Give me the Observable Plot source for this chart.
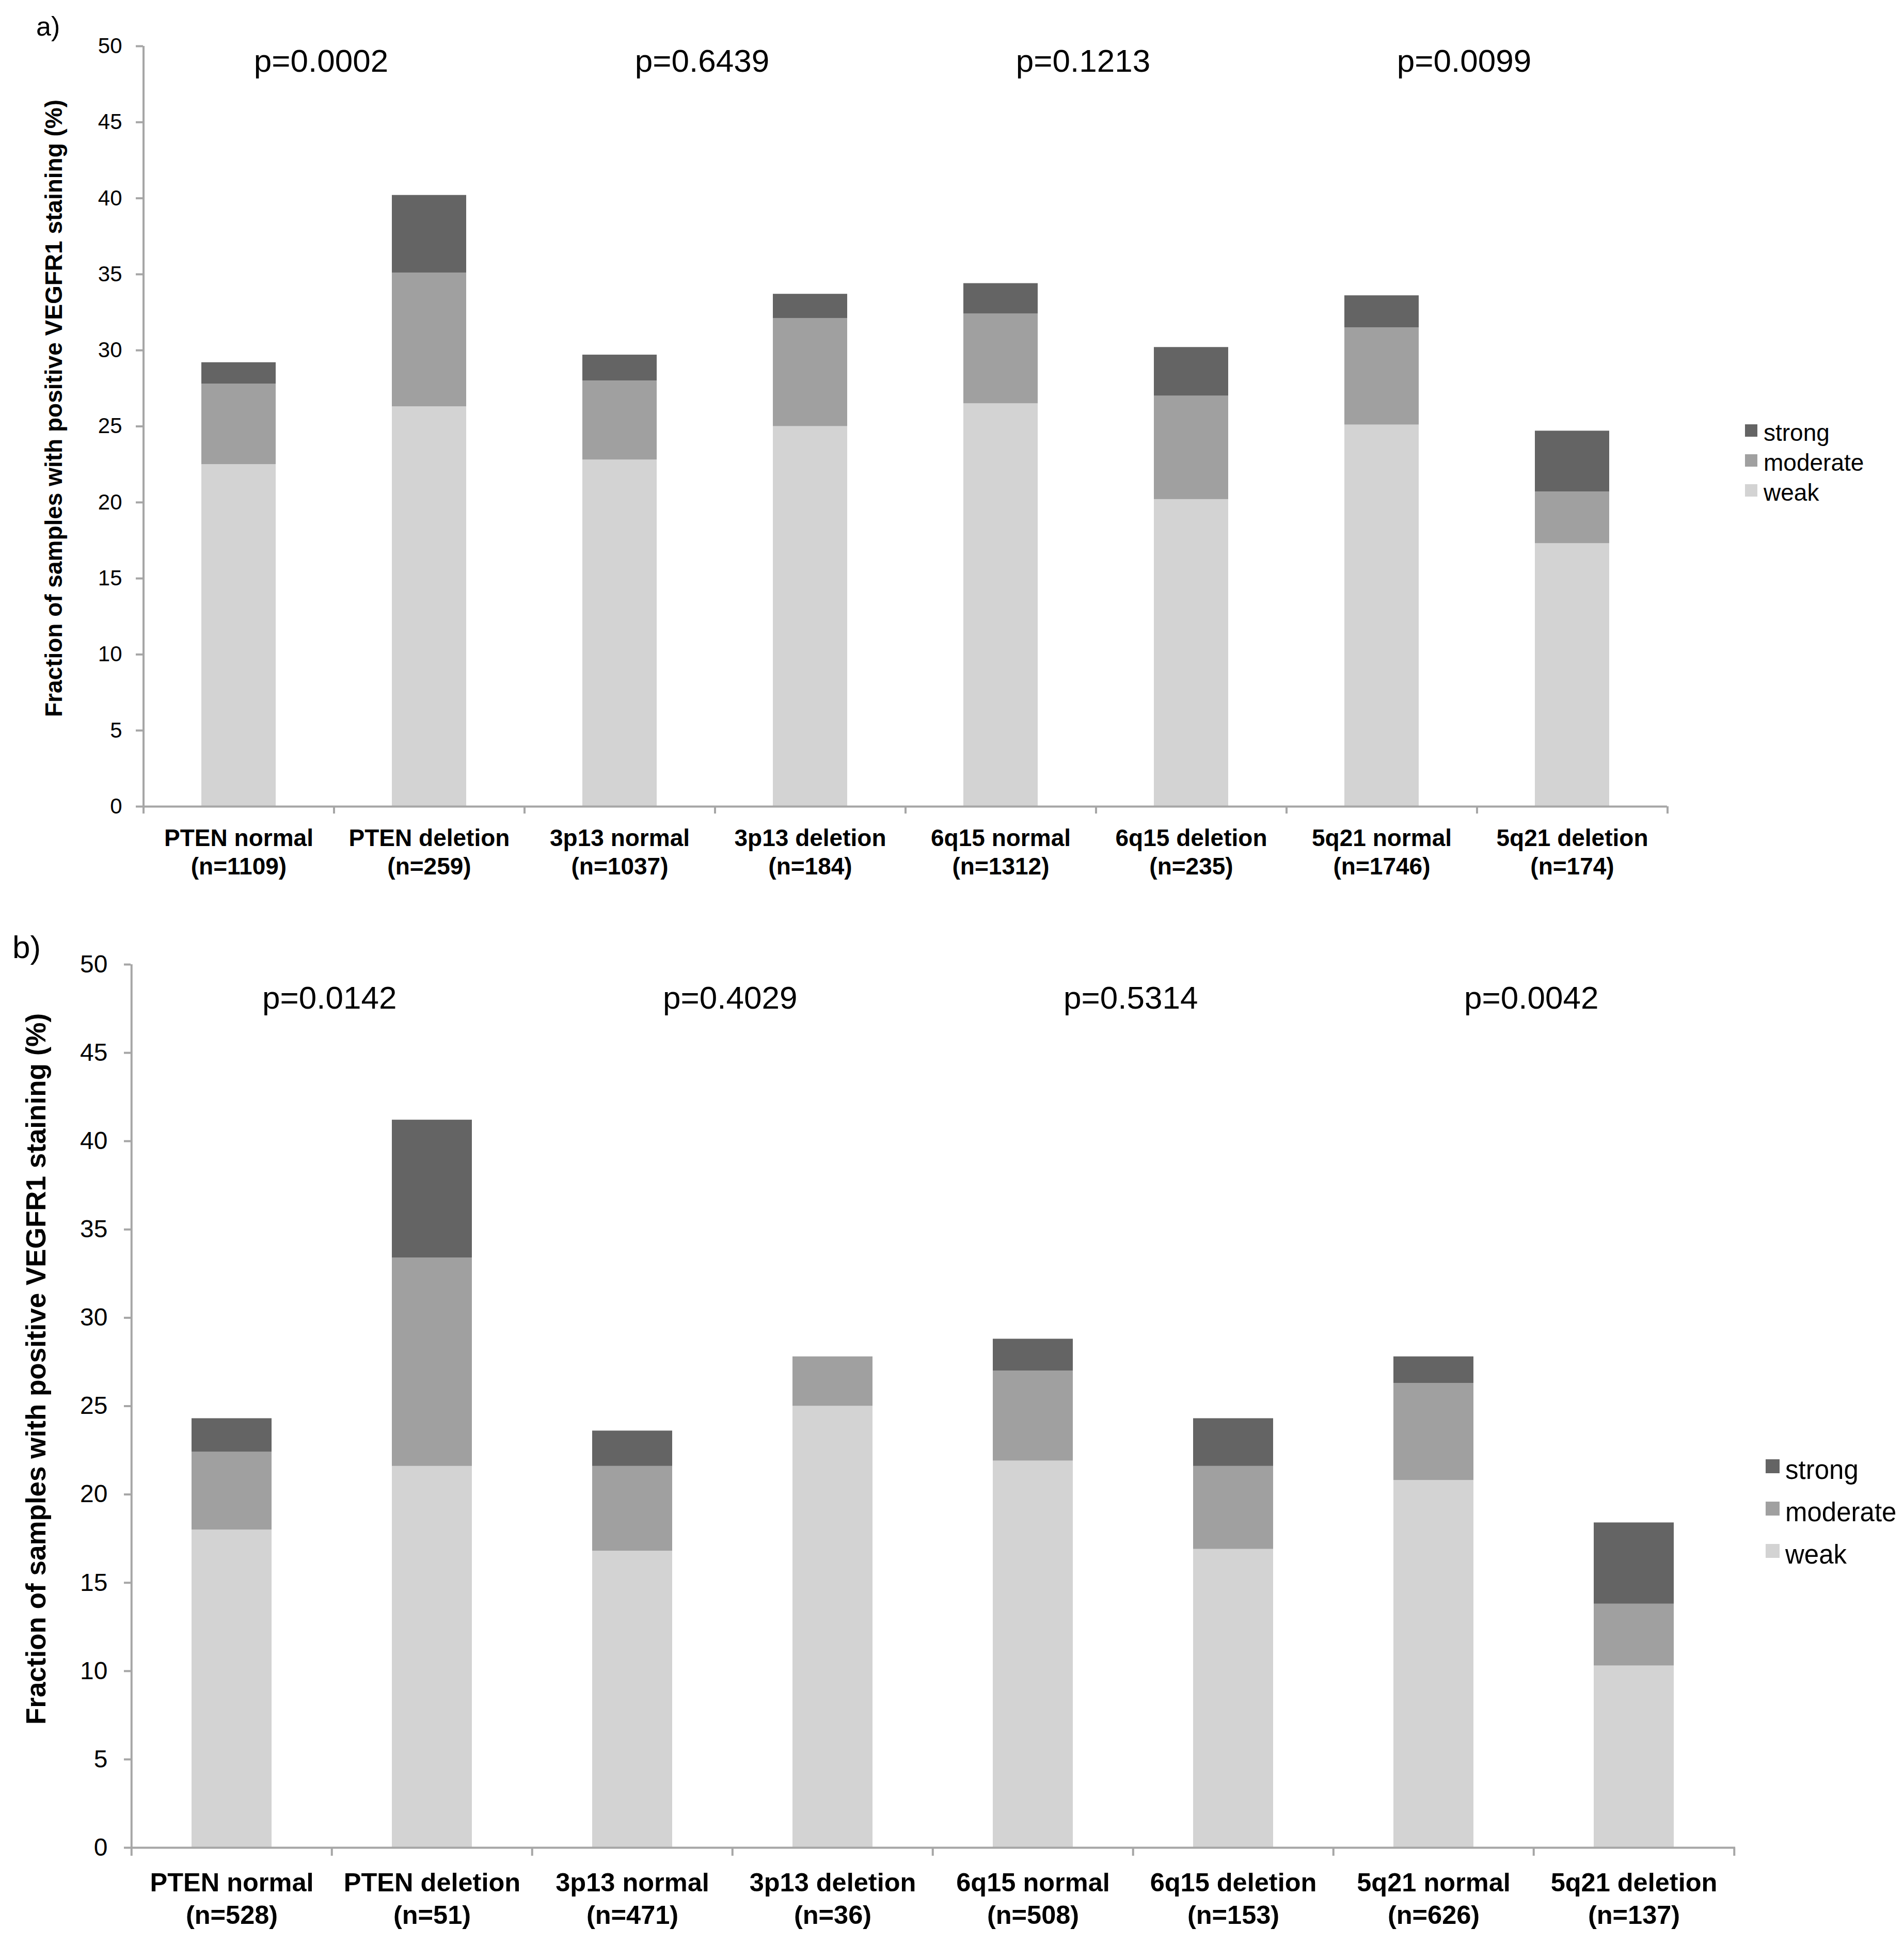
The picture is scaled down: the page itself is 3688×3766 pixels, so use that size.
<!DOCTYPE html>
<html><head><meta charset="utf-8">
<script src="https://cdn.jsdelivr.net/npm/d3@7"></script>
<script src="https://cdn.jsdelivr.net/npm/@observablehq/plot@0.6"></script>
<style>
body{margin:0;background:#fff;}
#root{position:relative;width:3688px;height:3766px;background:#fff;font-family:"Liberation Sans",Arial,sans-serif;color:#000;overflow:hidden}
.panel{position:absolute;left:0}
.tag{position:absolute;line-height:1;white-space:nowrap}
.sw{position:absolute}
</style></head><body><div id="root"></div>
<script>
// ---- data ----
const categories = ["PTEN normal","PTEN deletion","3p13 normal","3p13 deletion","6q15 normal","6q15 deletion","5q21 normal","5q21 deletion"];
const levels = ["weak","moderate","strong"];
const yTicks = [0,5,10,15,20,25,30,35,40,45,50];
const yLabel = "Fraction of samples with positive VEGFR1 staining (%)";

// panel a
const nA = [1109,259,1037,184,1312,235,1746,174];
const weakA     = [22.5,26.3,22.8,25.0,26.5,20.2,25.1,17.3];
const moderateA = [5.3, 8.8, 5.2, 7.1, 5.9, 6.8, 6.4, 3.4];
const strongA   = [1.4, 5.1, 1.7, 1.6, 2.0, 3.2, 2.1, 4.0];
const pA = ["p=0.0002","p=0.6439","p=0.1213","p=0.0099"];

// panel b
const nB = [528,51,471,36,508,153,626,137];
const weakB     = [18.0,21.6,16.8,25.0,21.9,16.9,20.8,10.3];
const moderateB = [4.4,11.8, 4.8, 2.8, 5.1, 4.7, 5.5, 3.5];
const strongB   = [1.9, 7.8, 2.0, 0.0, 1.8, 2.7, 1.5, 4.6];
const pB = ["p=0.0142","p=0.4029","p=0.5314","p=0.0042"];

// ---- styles ----
const FONT = '"Liberation Sans", Arial, sans-serif';
const fills = ["#d3d3d3","#a0a0a0","#646464"];
const AX = "#a6a6a6";
const AXW = 4;

function panel(o){
  const labels = categories.map((c,i)=>`${c}\n(n=${o.n[i]})`);
  const rows = [];
  labels.forEach((lab,i)=>{
    rows.push({cat:lab, level:"weak", value:o.weak[i]});
    rows.push({cat:lab, level:"moderate", value:o.moderate[i]});
    rows.push({cat:lab, level:"strong", value:o.strong[i]});
  });
  const step = (o.width - o.mL - o.mR)/categories.length;
  const pRows = o.p.map((t,k)=>({cat:labels[2*k], text:t}));
  return Plot.plot({
    width:o.width, height:o.height,
    marginLeft:o.mL, marginRight:o.mR, marginTop:o.mT, marginBottom:o.mB,
    style:{fontFamily:FONT, background:"white", color:"black", overflow:"visible"},
    x:{domain:labels, paddingInner:o.pad, paddingOuter:o.pad/2, axis:null, label:null},
    y:{domain:[0,50], axis:null, label:null},
    color:{domain:levels, range:fills},
    marks:[
      Plot.barY(rows, {x:"cat", y:"value", fill:"level", order:levels}),
      Plot.ruleY([0], {stroke:AX, strokeWidth:AXW}),
      Plot.ruleX([labels[0]], {x:d=>d, y1:0, y2:50, dx:-step/2, stroke:AX, strokeWidth:AXW}),
      Plot.ruleX(labels, {x:d=>d, y1:0, y2:0, insetBottom:-o.xTick, dx:-step/2, stroke:AX, strokeWidth:AXW}),
      Plot.ruleX([labels[labels.length-1]], {x:d=>d, y1:0, y2:0, insetBottom:-o.xTick, dx:step/2, stroke:AX, strokeWidth:AXW}),
      Plot.axisY({ticks:yTicks, tickSize:o.yTick, tickPadding:o.yPad, stroke:AX, strokeWidth:AXW, fill:"black", fontSize:o.yFs, label:null}),
      Plot.axisX({tickSize:0, tickPadding:o.xPad, fill:"black", fontSize:o.xFs, fontWeight:"bold", lineHeight:o.lh, label:null}),
      Plot.text(pRows, {x:"cat", text:"text", frameAnchor:"top", lineAnchor:"top", dx:step/2 + o.pOff, dy:o.pDy, fontSize:o.pFs, fill:"black"}),
      Plot.text([yLabel], {frameAnchor:"left", textAnchor:"middle", lineAnchor:"middle", rotate:-90, dx:o.lDx, dy:o.lDy, fontSize:o.lFs, fontWeight:"bold", fill:"black"})
    ]
  });
}

const root = document.getElementById("root");

const a = panel({n:nA, weak:weakA, moderate:moderateA, strong:strongA, p:pA,
  width:3688, height:1780, mL:277, mR:459, mT:89, mB:218, pad:0.61,
  yTick:14, yPad:27, yFs:42, xTick:14, xPad:37, xFs:46, lh:1.2,
  pFs:62, pDy:5, pOff:-25, lFs:46, lDx:-172, lDy:-35});
const wa = document.createElement("div"); wa.className="panel"; wa.style.top="0px"; wa.appendChild(a); root.appendChild(wa);

const b = panel({n:nB, weak:weakB, moderate:moderateB, strong:strongB, p:pB,
  width:3688, height:1986, mL:253, mR:327, mT:88, mB:187, pad:0.6,
  yTick:13, yPad:32, yFs:48, xTick:16, xPad:40, xFs:50.5, lh:1.25,
  pFs:62, pDy:41, pOff:-5, lFs:53, lDx:-182, lDy:-72});
const wb = document.createElement("div"); wb.className="panel"; wb.style.top="1780px"; wb.appendChild(b); root.appendChild(wb);

function tag(text, left, top, fs){
  const d = document.createElement("div"); d.className="tag";
  d.textContent = text; d.style.left=left+"px"; d.style.top=top+"px"; d.style.fontSize=fs+"px";
  root.appendChild(d);
}
function swatch(color, left, top, size){
  const d = document.createElement("div"); d.className="sw";
  d.style.left=left+"px"; d.style.top=top+"px"; d.style.width=size+"px"; d.style.height=size+"px"; d.style.background=color;
  root.appendChild(d);
}
// panel tags
tag("a)", 70, 25, 52);
tag("b)", 24, 1804, 62);

// legends (strong, moderate, weak from top)
const legOrder = levels.slice().reverse();
legOrder.forEach((lv,k)=>{
  const col = fills[levels.indexOf(lv)];
  // panel a
  const ca = 834 + k*58;
  swatch(col, 3380, ca-12, 24);
  tag(lv, 3416, ca+20-Math.round(0.8465*46), 46);
  // panel b
  const cb = 2840 + k*82;
  swatch(col, 3420, cb-13, 27);
  tag(lv, 3458, cb+25-Math.round(0.8465*51), 51);
});
</script></body></html>
